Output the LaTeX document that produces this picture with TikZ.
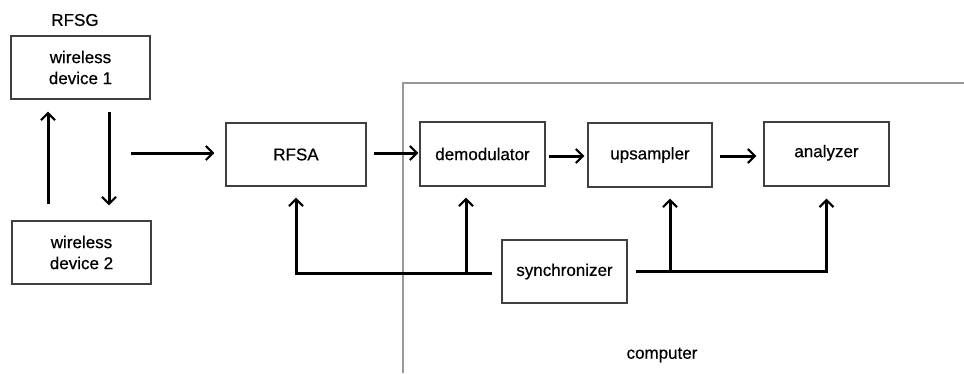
\documentclass[tikz,border=0pt]{standalone}
\usepackage{fontspec}
\setmainfont[FakeBold=0.5]{Liberation Sans}
\usetikzlibrary{arrows.meta}
\begin{document}
\begin{tikzpicture}[x=1pt,y=-1pt,
  font=\fontsize{17}{21}\selectfont,
  box/.style={draw=black!75, line width=1.2pt, align=center, inner sep=0pt},
  arr/.style={line width=3pt, -{Straight Barb[length=7pt,width=14pt,line width=2.2pt]}},
  frame/.style={draw=black!40, line width=1.2pt}]
\useasboundingbox (0,0) rectangle (964,373);
% computer frame
\draw[frame] (403,373) -- (403,83) -- (964,83);
% labels
\node (rfsg) at (75,20) {RFSG};
\node (comp) at (662,355) {computer};
% boxes
\node[box, minimum width=139pt, minimum height=63pt] (wd1) at (80.5,67.5) {wireless\\device 1};
\node[box, minimum width=139pt, minimum height=63pt] (wd2) at (81.5,252.5) {wireless\\device 2};
\node[box, minimum width=140pt, minimum height=63pt] (rfsa) at (296,154.5) {RFSA};
\node[box, minimum width=125pt, minimum height=64pt] (demod) at (482.5,154) {demodulator};
\node[box, minimum width=124pt, minimum height=64pt] (ups) at (650,155) {upsampler};
\node[box, minimum width=125pt, minimum height=64pt, text depth=6pt] (ana) at (826.5,154) {analyzer};
\node[box, minimum width=125pt, minimum height=63pt] (sync) at (564.5,271.5) {synchronizer};
% coordinates for free ends and junctions
\coordinate (uc) at (48,0);
\coordinate (dc) at (109,0);
\coordinate (src) at (131,153);
\coordinate (j1) at (466,273);
\coordinate (j2) at (670,271);
% connectors
\draw[arr, shorten <=16pt, shorten >=12pt] (wd2.north -| uc) -- (wd1.south -| uc);
\draw[arr, shorten <=12pt, shorten >=15pt] (wd1.south -| dc) -- (wd2.north -| dc);
\draw[arr, shorten >=11pt] (src) -- (src -| rfsa.west);
\draw[arr, shorten <=7pt, shorten >=1pt] (rfsa.east |- src) -- (demod.west |- src);
\draw[arr, shorten <=3pt, shorten >=3pt] (demod.east |- 0,156) -- (ups.west |- 0,156);
\draw[arr, shorten <=7pt, shorten >=7pt] (ups.east |- 0,156) -- (ana.west |- 0,156);
\draw[arr, shorten <=9pt, shorten >=11pt] (sync.west |- j1) -| (rfsa.south);
\draw[arr, shorten >=11pt] (j1) -- (j1 |- demod.south);
\draw[arr, shorten <=8pt, shorten >=12pt] (sync.east |- j2) -| (ana.south);
\draw[arr, shorten >=11pt] (j2) -- (j2 |- ups.south);
\end{tikzpicture}
\end{document}
